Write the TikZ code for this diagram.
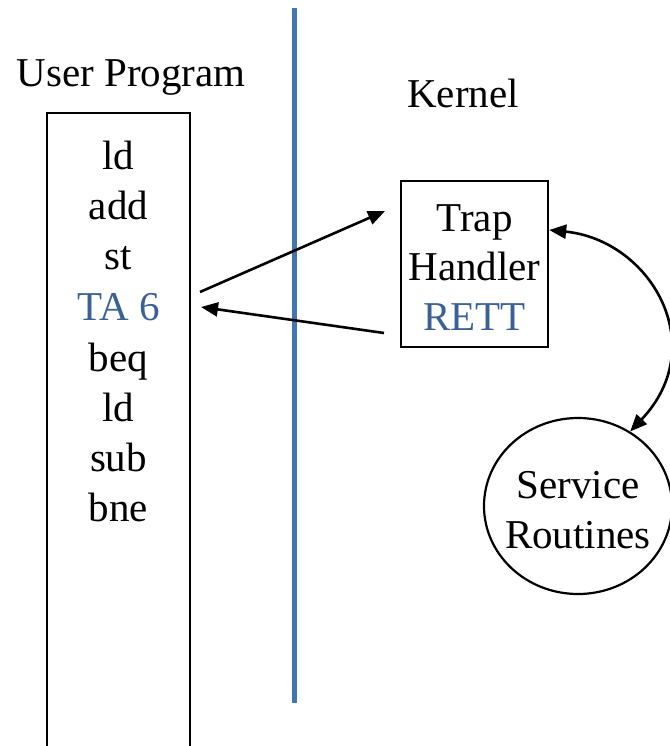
\documentclass[tikz,border=0pt]{standalone}
\usepackage{fontspec}
\setmainfont{Liberation Serif}
\usetikzlibrary{arrows.meta,shapes.geometric}
\definecolor{divblue}{RGB}{65,118,174}
\definecolor{codeblue}{RGB}{58,96,150}
\begin{document}
\begin{tikzpicture}[x=1pt,y=-1pt,
  every node/.style={font=\fontsize{41}{50}\selectfont},
  frame/.style={draw=black,line width=2.4pt},
  tip/.style={Triangle[length=17pt,width=14pt]},
  link/.style={line width=2.6pt,-{Triangle[length=17pt,width=14pt]}},
  codeline/.style={inner sep=0pt,anchor=base}]
\useasboundingbox (0,0) rectangle (669,746);
% divider between user space and kernel
\draw[divblue,line width=5pt] (294,8) -- (294,703);
% headings
\node (uplabel) at (131,78) {User Program};
\node (klabel) at (463,93) {Kernel};
% user program listing
\draw[frame] (47,747) -- (47,113) -- (190,113) -- (190,747);
\node[codeline] (l1) at (118.5,169) {ld};
\node[codeline] (l2) at (118.5,219) {add};
\node[codeline] (l3) at (118.5,269) {st};
\node[codeline,text=codeblue] (l4) at (118.5,320) {TA 6};
\node[codeline] (l5) at (118.5,371) {beq};
\node[codeline] (l6) at (118.5,421) {ld};
\node[codeline] (l7) at (118.5,471) {sub};
\node[codeline] (l8) at (118.5,521) {bne};
% trap handler
\node[frame,minimum width=147pt,minimum height=166pt,inner sep=0pt] (trap) at (474.5,264) {};
\node[codeline] (t1) at (474.5,231) {Trap};
\node[codeline] (t2) at (474.5,280) {Handler};
\node[codeline,text=codeblue] (t3) at (474.5,330) {RETT};
% service routines
\node[draw=black,line width=2.2pt,ellipse,minimum width=188pt,minimum height=176pt,inner sep=0pt] (svc) at (578,506) {};
\node[codeline] (s1) at (578,498) {Service};
\node[codeline] (s2) at (578,548) {Routines};
% control transfers
\coordinate (callfrom) at (200,292);
\coordinate (callto) at (385,211);
\coordinate (retfrom) at (384,333);
\coordinate (retto) at (201,307);
\draw[link] (callfrom) -- (callto);
\draw[link] (retfrom) -- (retto);
\draw[line width=2.6pt,{Triangle[length=17pt,width=14pt]}-{Triangle[length=17pt,width=14pt]}]
  (trap.east |- 0,230) .. controls (650,240) and (712,345) .. (svc.55);
\end{tikzpicture}
\end{document}
